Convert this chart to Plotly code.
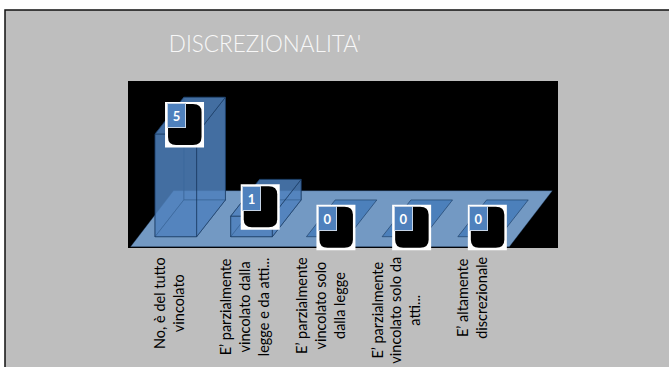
import plotly.graph_objects as go

TITLE = "DISCREZIONALITA'"
LABELS = [
    "No, è del tutto<br>vincolato",
    "E’ parzialmente<br>vincolato dalla<br>legge e da atti...",
    "E’ parzialmente<br>vincolato solo<br>dalla legge",
    "E’ parzialmente<br>vincolato solo da<br>atti...",
    "E’ altamente<br>discrezionale",
]
VALUES = [5, 1, 0, 0, 0]

BAR_FILL = 'rgba(79,129,189,0.62)'
BAR_EDGE = 'rgba(23,55,94,0.6)'
LABEL_FONT = 'Lato'

# plot area in page pixels
PX_L, PX_R, PX_T, PX_B = 128, 558, 81, 252

# oblique depth of the fake 3d, in axis units
BAR_W = 0.55
DEPTH_X = 0.38
DEPTH_Y = 1.79


def paper_x(px):
    return (px - PX_L) / (PX_R - PX_L)


def paper_y(px):
    return 1 - (px - PX_T) / (PX_B - PX_T)


def poly(fig, xs, ys, fill=BAR_FILL, edge=BAR_EDGE):
    fig.add_trace(go.Scatter(
        x=xs + xs[:1], y=ys + ys[:1], mode='lines', fill='toself',
        fillcolor=fill, line=dict(color=edge, width=1),
        hoverinfo='skip', showlegend=False,
    ))


fig = go.Figure()

# floor of the 3d chart
poly(fig, [-0.598, 4.405, 4.973, -0.03], [-0.49, -0.49, 2.24, 2.24],
     fill='#7399C3', edge='rgba(23,55,94,0.35)')

for i, v in enumerate(VALUES):
    l = i - BAR_W / 2
    r = i + BAR_W / 2
    bl, br = l + DEPTH_X, r + DEPTH_X
    d = DEPTH_Y
    if v > 0:
        poly(fig, [bl, br, br, bl], [d, d, v + d, v + d])
        poly(fig, [l, bl, bl, l], [0, d, v + d, v])
    poly(fig, [l, r, br, bl], [0, 0, d, d],
         fill='rgba(74,126,187,0.95)' if v == 0 else BAR_FILL)
    if v > 0:
        poly(fig, [l, r, r, l], [0, 0, v, v])
        poly(fig, [r, br, br, r], [0, d, v + d, v])
        poly(fig, [l, r, br, bl], [v, v, v + d, v + d])

shapes = [
    # frame of the slide, runs off the page on the right and at the bottom
    dict(type='rect', xref='paper', yref='paper', x0=paper_x(5), x1=paper_x(690),
         y0=paper_y(390), y1=paper_y(10), layer='below',
         line=dict(color='#111111', width=1.5), fillcolor='#BEBEBE'),
    dict(type='rect', xref='x domain', yref='y', x0=0, x1=1, y0=-0.55, y1=7.58, layer='below',
         line_width=0, fillcolor='black'),
]
for i, v in enumerate(VALUES):
    anchor = dict(xref='x', yref='y', xsizemode='pixel', ysizemode='pixel',
                  xanchor=i - BAR_W / 2, yanchor=v, layer='above')
    shapes.append(dict(type='rect', x0=10, x1=49, y0=-13.5, y1=32,
                       fillcolor='white', line_width=0, **anchor))
    shapes.append(dict(type='path', line_width=0, fillcolor='black',
                       path='M 13 30 L 38 30 Q 46.5 30 46.5 22 L 46.5 -3 Q 46.5 -11 38 -11 '
                            'L 21 -11 Q 13 -11 13 -3 Z', **anchor))

annotations = []
for i, v in enumerate(VALUES):
    annotations.append(dict(
        x=i - BAR_W / 2, y=v, xref='x', yref='y', xshift=21, yshift=18, text='<b>%d</b>' % v,
        showarrow=False, font=dict(family='Lato', size=13, color='white'),
        bgcolor='#4F81BD', bordercolor='#C6D4E6', borderwidth=1, width=17, height=23,
        xanchor='center', yanchor='middle', borderpad=0,
    ))
    # category labels, centred block
    annotations.append(dict(
        x=i - 0.09, y=paper_y(255), xref='x', yref='paper', text=LABELS[i], textangle=-90,
        showarrow=False, align='center', xanchor='center', yanchor='top',
        font=dict(family=LABEL_FONT, size=14.5, color='black'),
    ))

fig.update_layout(
    width=669, height=367,
    margin=dict(l=PX_L, r=669 - PX_R, t=PX_T, b=367 - PX_B, autoexpand=False),
    paper_bgcolor='white', plot_bgcolor='rgba(0,0,0,0)',
    title=dict(text=TITLE, x=265 / 669, xanchor='center', y=1 - 44 / 367, yanchor='middle',
               font=dict(family='Lato', size=22.5, color='#F8F8F8', weight=300)),
    xaxis=dict(range=[-0.632, 5.048], visible=False, fixedrange=True),
    yaxis=dict(range=[-0.745, 7.58], visible=False, fixedrange=True),
    shapes=shapes, annotations=annotations, showlegend=False,
)
# page margin would push the whole figure 8px in
fig.write_html("out.html", config=dict(displayModeBar=False),
               post_script="document.body.style.margin='0';document.body.style.overflow='hidden';")
